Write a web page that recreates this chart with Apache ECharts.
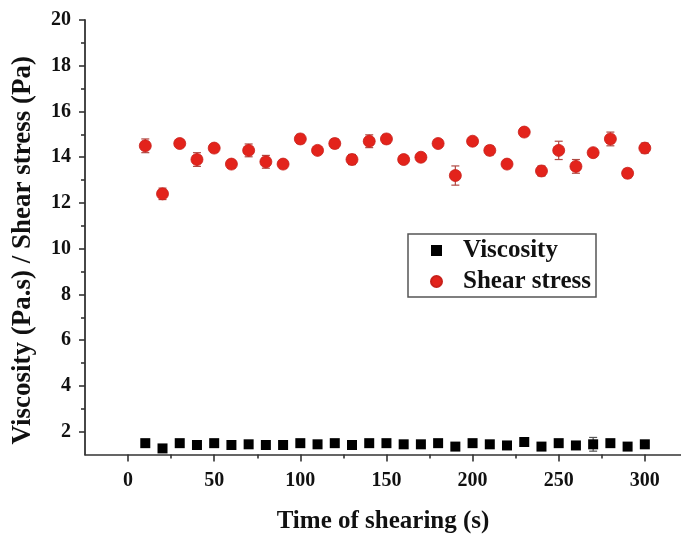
<!DOCTYPE html>
<html><head><meta charset="utf-8">
<script src="https://cdn.jsdelivr.net/npm/echarts@6/dist/echarts.min.js"></script>
<style>html,body{margin:0;padding:0;background:#fff}#c{width:681px;height:539px}</style>
</head><body><div id="c"></div>
<script>
const times = [10,20,30,40,50,60,70,80,90,100,110,120,130,140,150,160,170,180,190,200,210,220,230,240,250,260,270,280,290,300];
const viscosity = [1.5,1.27,1.5,1.42,1.5,1.42,1.45,1.42,1.42,1.5,1.45,1.5,1.42,1.5,1.5,1.45,1.45,1.5,1.35,1.5,1.45,1.4,1.55,1.35,1.5,1.4,1.45,1.5,1.35,1.45];
const viscosityErr = [0.05,0.05,0.05,0.05,0.05,0.05,0.05,0.05,0.05,0.05,0.05,0.05,0.05,0.05,0.05,0.05,0.05,0.05,0.05,0.05,0.05,0.05,0.05,0.05,0.05,0.05,0.3,0.05,0.05,0.05];
const shearStress = [14.5,12.4,14.6,13.9,14.4,13.7,14.3,13.8,13.7,14.8,14.3,14.6,13.9,14.7,14.8,13.9,14.0,14.6,13.2,14.7,14.3,13.7,15.1,13.4,14.3,13.6,14.2,14.8,13.3,14.4];
const shearStressErr = [0.3,0.25,0.15,0.3,0.15,0.15,0.28,0.28,0.15,0.2,0.15,0.2,0.22,0.28,0.2,0.15,0.15,0.15,0.42,0.15,0.2,0.15,0.15,0.22,0.4,0.3,0.15,0.3,0.2,0.22];
const xTickValues = [0,50,100,150,200,250,300];
const xMinorTickValues = [25,75,125,175,225,275];
const yTickValues = [2,4,6,8,10,12,14,16,18,20];
const yMinorTickValues = [3,5,7,9,11,13,15,17,19];

const FONT = 'Liberation Serif';
const AX = '#333';
const RED = '#e3231b';

function errorRenderer(color){
  return function(params, api){
    const x = api.value(0), lo = api.value(1), hi = api.value(2);
    const top = api.coord([x, hi]), bot = api.coord([x, lo]);
    const w = 4;
    const st = {stroke: color, lineWidth: 1.2};
    return {type:'group', children:[
      {type:'line', shape:{x1:top[0],y1:top[1],x2:bot[0],y2:bot[1]}, style:st},
      {type:'line', shape:{x1:top[0]-w,y1:top[1],x2:top[0]+w,y2:top[1]}, style:st},
      {type:'line', shape:{x1:bot[0]-w,y1:bot[1],x2:bot[0]+w,y2:bot[1]}, style:st}
    ]};
  };
}

const labelStyle = {fontFamily: FONT, fontWeight: 'bold', fontSize: 20, color: '#111'};
const nameStyle = {fontFamily: FONT, fontWeight: 'bold', fontSize: 25, color: '#111'};

const chart = echarts.init(document.getElementById('c'), null, {renderer: 'canvas'});
chart.setOption({
  backgroundColor: '#fff',
  animation: false,
  grid: {left: 85, right: 0, top: 20, bottom: 84.4, containLabel: false, outerBoundsMode: 'none'},
  legend: {
    orient: 'vertical', left: 408, top: 234,
    padding: [4, 5, 3, 22], itemGap: 6,
    itemWidth: 11, itemHeight: 11,
    borderColor: '#555', borderWidth: 1.5,
    textStyle: {fontFamily: FONT, fontWeight: 'bold', fontSize: 25, color: '#111', padding: [0,0,0,16]},
    data: [{name: 'Viscosity', icon: 'rect'}, {name: 'Shear stress', icon: 'circle'}]
  },
  xAxis: [
    {type: 'value', min: -25, max: 321, position: 'bottom',
     axisLine: {show: true, onZero: false, lineStyle: {color: AX, width: 1.6}},
     axisTick: {show: true, length: 7, customValues: xTickValues, lineStyle: {color: AX, width: 1.6}},
     axisLabel: Object.assign({customValues: xTickValues, margin: 16}, labelStyle),
     splitLine: {show: false},
     name: 'Time of shearing (s)', nameLocation: 'middle', nameGap: 54, nameTextStyle: nameStyle},
    {type: 'value', min: -25, max: 321, position: 'bottom',
     axisLine: {show: false, onZero: false},
     axisTick: {show: true, length: 4, customValues: xMinorTickValues, lineStyle: {color: AX, width: 1.6}},
     axisLabel: {show: false}, splitLine: {show: false}}
  ],
  yAxis: [
    {type: 'value', min: 1, max: 20, position: 'left',
     axisLine: {show: true, onZero: false, lineStyle: {color: AX, width: 1.8}},
     axisTick: {show: true, length: 6, customValues: yTickValues, lineStyle: {color: AX, width: 1.6}},
     axisLabel: Object.assign({customValues: yTickValues, margin: 14}, labelStyle),
     splitLine: {show: false},
     name: 'Viscosity (Pa.s) / Shear stress (Pa)', nameLocation: 'middle', nameGap: 48,
     nameTextStyle: Object.assign({padding: [0, 26, 0, 0]}, nameStyle, {fontSize: 27})},
    {type: 'value', min: 1, max: 20, position: 'left',
     axisLine: {show: false, onZero: false},
     axisTick: {show: true, length: 4, customValues: yMinorTickValues, lineStyle: {color: AX, width: 1.6}},
     axisLabel: {show: false}, splitLine: {show: false}}
  ],
  series: [
    {type: 'custom', name: 'viscErr', renderItem: errorRenderer('#555'),
     data: times.map((t, i) => [t, viscosity[i] - viscosityErr[i], viscosity[i] + viscosityErr[i]]), z: 1, silent: true},
    {type: 'custom', name: 'shearErr', renderItem: errorRenderer('#b04a44'),
     data: times.map((t, i) => [t, shearStress[i] - shearStressErr[i], shearStress[i] + shearStressErr[i]]), z: 1, silent: true},
    {type: 'scatter', name: 'Viscosity', symbol: 'rect', symbolSize: 10,
     itemStyle: {color: '#000', opacity: 1}, data: times.map((t, i) => [t, viscosity[i]]), z: 3},
    {type: 'scatter', name: 'Shear stress', symbol: 'circle', symbolSize: 12,
     itemStyle: {color: RED, borderColor: '#c8201a', borderWidth: 0.8, opacity: 1}, data: times.map((t, i) => [t, shearStress[i]]), z: 3}
  ]
});
</script>
</body></html>
